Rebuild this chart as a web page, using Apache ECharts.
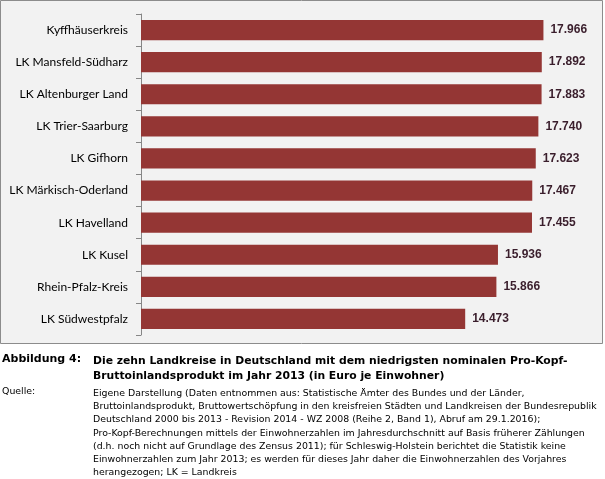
<!DOCTYPE html>
<html><head><meta charset="utf-8">
<script src="https://cdn.jsdelivr.net/npm/echarts@6/dist/echarts.min.js"></script>
<style>html,body{margin:0;padding:0;background:#fff}#c{width:605px;height:479px}</style>
</head><body><div id="c"></div>
<script>
const categories = ["Kyffhäuserkreis","LK Mansfeld-Südharz","LK Altenburger Land","LK Trier-Saarburg","LK Gifhorn","LK Märkisch-Oderland","LK Havelland","LK Kusel","Rhein-Pfalz-Kreis","LK Südwestpfalz"];
const values = [17966,17892,17883,17740,17623,17467,17455,15936,15866,14473];
const captionLabel = "Abbildung 4:";
const captionTitle = ["Die zehn Landkreise in Deutschland mit dem niedrigsten nominalen Pro-Kopf-","Bruttoinlandsprodukt im Jahr 2013 (in Euro je Einwohner)"];
const sourceLabel = "Quelle:";
const sourceLines = [
"Eigene Darstellung (Daten entnommen aus: Statistische Ämter des Bundes und der Länder,",
"Bruttoinlandsprodukt, Bruttowertschöpfung in den kreisfreien Städten und Landkreisen der Bundesrepublik",
"Deutschland 2000 bis 2013 - Revision 2014 - WZ 2008 (Reihe 2, Band 1), Abruf am 29.1.2016);",
"Pro-Kopf-Berechnungen mittels der Einwohnerzahlen im Jahresdurchschnitt auf Basis früherer Zählungen",
"(d.h. noch nicht auf Grundlage des Zensus 2011); für Schleswig-Holstein berichtet die Statistik keine",
"Einwohnerzahlen zum Jahr 2013; es werden für dieses Jahr daher die Einwohnerzahlen des Vorjahres",
"herangezogen; LK = Landkreis"];

const chart = echarts.init(document.getElementById('c'));
const capFont = '"DejaVu Sans", sans-serif';
const graphics = [
  {type:'rect', z:-10, shape:{x:0.5,y:0.5,width:602,height:343}, style:{fill:'#f2f2f2', stroke:'#8c8c8c', lineWidth:1}, silent:true},
  {type:'text', left:2, top:354, style:{text:captionLabel, font:'bold 11px '+capFont, fill:'#000'}},
  {type:'text', left:93, top:354, style:{text:captionTitle.join('\n'), font:'bold 10.8px '+capFont, lineHeight:15, fill:'#000'}},
  {type:'text', left:2, top:387, style:{text:sourceLabel, font:'9.4px '+capFont, fill:'#000'}},
  {type:'text', left:93, top:387, style:{text:sourceLines.join('\n'), font:'9.4px '+capFont, lineHeight:13.2, fill:'#000'}}
];
chart.setOption({
  animation:false,
  backgroundColor:'#fff',
  graphic: graphics,
  grid:{left:141, top:14, right:16, height:321},
  xAxis:{type:'value', min:0, max:20000, show:false},
  yAxis:{type:'category', data:categories, inverse:true,
    axisLine:{show:true, lineStyle:{color:'#868686', width:1}},
    axisTick:{show:true, length:5, lineStyle:{color:'#868686'}},
    axisLabel:{color:'#000', fontFamily:'Lato, sans-serif', fontSize:12, margin:13}},
  series:[{type:'bar', data:values, barCategoryGap:'37%',
    itemStyle:{color:'#943634'},
    label:{show:true, position:'right', distance:7, color:'#3a1e2c', fontFamily:'"Liberation Sans", sans-serif', fontWeight:'bold', fontSize:12,
      formatter: p => (p.value/1000).toFixed(3)}}]
});
</script></body></html>
